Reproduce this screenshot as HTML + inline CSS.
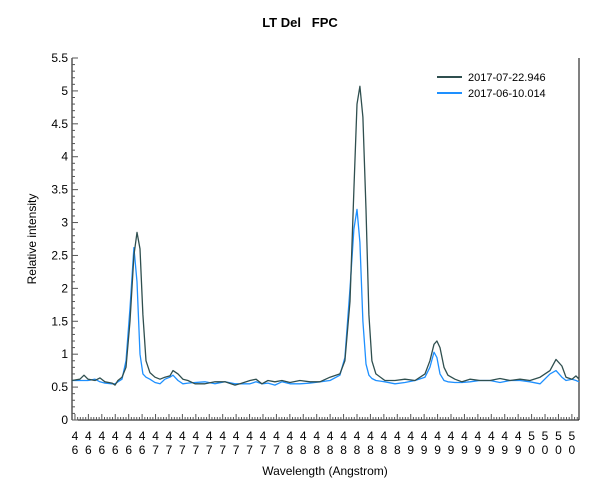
<!DOCTYPE html>
<html><head><meta charset="utf-8"><style>
body{margin:0;background:#fff;}
svg{display:block;font-family:"Liberation Sans",Arial,sans-serif;}
</style></head><body>
<svg id="chart" width="600" height="500">
<text x="300" y="27" text-anchor="middle" font-size="13" font-weight="bold" xml:space="preserve">LT Del   FPC</text>
<text transform="translate(36,239) rotate(-90)" text-anchor="middle" font-size="12">Relative intensity</text>
<text x="325" y="475" text-anchor="middle" font-size="12">Wavelength (Angstrom)</text>
<g id="axes"></g>
<g id="series"></g>
<g>
<line x1="437" y1="77" x2="462" y2="77" stroke="#2f4f4f" stroke-width="2"/>
<text x="468" y="81" font-size="11">2017-07-22.946</text>
<line x1="437" y1="93" x2="462" y2="93" stroke="#1e90ff" stroke-width="2"/>
<text x="468" y="97" font-size="11">2017-06-10.014</text>
</g>
</svg>
<script>
const wavelengths=[4637.8,4643.7,4646.7,4649.7,4654.9,4658.6,4662.3,4667.6,4669.8,4672,4675,4678,4681,4683.9,4686.2,4688.4,4690.6,4692.9,4695.8,4699.6,4703.3,4707,4710.7,4713,4716.7,4720.4,4724.1,4729.4,4736.8,4744.3,4751.7,4759.2,4762.9,4770.3,4774.8,4779.2,4783.7,4788.9,4794.1,4800.1,4807.5,4815,4822.4,4829.9,4837.3,4841,4844.8,4847.7,4850,4852.2,4854.4,4856.7,4858.9,4861.1,4864.1,4870.8,4878.3,4885.7,4893.2,4900.6,4904.3,4907.3,4909.5,4911.8,4914.8,4917.7,4922.9,4928.2,4934.1,4941.6,4949,4956.5,4963.9,4971.4,4978.8,4986.3,4993.7,4998.2,5002.6,5005.6,5010.1,5013.1,5015.3];
const series0722=[0.6,0.62,0.68,0.62,0.6,0.64,0.58,0.56,0.53,0.6,0.65,0.8,1.5,2.5,2.85,2.6,1.6,0.9,0.72,0.65,0.62,0.65,0.67,0.75,0.7,0.62,0.6,0.55,0.55,0.58,0.58,0.53,0.55,0.6,0.62,0.55,0.6,0.58,0.6,0.57,0.6,0.58,0.58,0.65,0.7,0.9,1.8,3.5,4.8,5.07,4.6,3.2,1.6,0.9,0.7,0.6,0.6,0.62,0.6,0.7,0.9,1.15,1.2,1.1,0.8,0.68,0.62,0.58,0.62,0.6,0.6,0.63,0.6,0.62,0.6,0.65,0.75,0.92,0.82,0.65,0.62,0.67,0.62];
const series0610=[0.6,0.6,0.6,0.6,0.62,0.58,0.56,0.55,0.55,0.58,0.62,0.9,1.7,2.62,2.1,1.0,0.7,0.65,0.62,0.57,0.55,0.62,0.65,0.68,0.6,0.55,0.56,0.57,0.58,0.55,0.58,0.55,0.55,0.55,0.58,0.55,0.56,0.53,0.58,0.55,0.55,0.56,0.58,0.6,0.68,0.95,2.0,2.9,3.2,2.7,1.5,0.85,0.68,0.63,0.6,0.58,0.55,0.57,0.6,0.65,0.8,1.03,0.95,0.7,0.6,0.58,0.57,0.57,0.58,0.6,0.6,0.57,0.6,0.6,0.58,0.55,0.7,0.75,0.65,0.6,0.62,0.6,0.58];
const yTicks=[0,0.5,1,1.5,2,2.5,3,3.5,4,4.5,5,5.5];
const xTickLabels=["46","46","46","46","46","46","47","47","47","47","47","47","47","47","47","47","48","48","48","48","48","48","48","48","48","49","49","49","49","49","49","49","49","49","50","50","50","50"];
const NS="http://www.w3.org/2000/svg";
const X0=72,X1=579,Y0=420,Y1=58,W0=4637.8,W1=5015.3,V0=0,V1=5.5;
function xs(w){return X0+(w-W0)/(W1-W0)*(X1-X0);}
function ys(v){return Y0-(v-V0)/(V1-V0)*(Y0-Y1);}
function mk(tag,attrs,parent){const e=document.createElementNS(NS,tag);for(const k in attrs)e.setAttribute(k,attrs[k]);parent.appendChild(e);return e;}
const ax=document.getElementById('axes');
let e;
e=mk('line',{x1:X0,y1:Y1,x2:X0,y2:Y0,stroke:'#000'},ax);


e=mk('line',{x1:X0,y1:Y0,x2:X1,y2:Y0,stroke:'#000'},ax);


e=mk('line',{x1:X1,y1:Y1,x2:X1,y2:Y0,stroke:'#000'},ax);


for(let i=0;i<=55;i++){const y=ys(i*0.1);mk('line',{x1:X0,y1:y,x2:X0+(i%5==0?6:3),y2:y,stroke:'#555'},ax);}
yTicks.forEach(v=>{const t=mk('text',{x:68,y:ys(v)+4,'text-anchor':'end','font-size':12},ax);t.textContent=String(v);

});
for(let w=4640;w<=5014;w+=2){const x=xs(w);mk('line',{x1:x,y1:Y0,x2:x,y2:Y0-((w%10==0)?6:3),stroke:'#555'},ax);}
xTickLabels.forEach((s,i)=>{const x=xs(4640+i*10);
const g=mk('g',{},ax);


const a=mk('text',{x:x,y:440,'text-anchor':'middle','font-size':12},g);a.textContent=s[0];
const b=mk('text',{x:x,y:454,'text-anchor':'middle','font-size':12},g);b.textContent=s[1];});
const sg=document.getElementById('series');
function draw(vals,color,name){const d=vals.map((v,i)=>(i?'L':'M')+xs(wavelengths[i]).toFixed(1)+','+ys(v).toFixed(1)).join('');
const p=mk('path',{d:d,fill:'none',stroke:color,'stroke-width':1.3,'stroke-linejoin':'round'},sg);

}
draw(series0610,'#1e90ff','series-2017-06-10');
draw(series0722,'#2f4f4f','series-2017-07-22');
</script>
</body></html>
